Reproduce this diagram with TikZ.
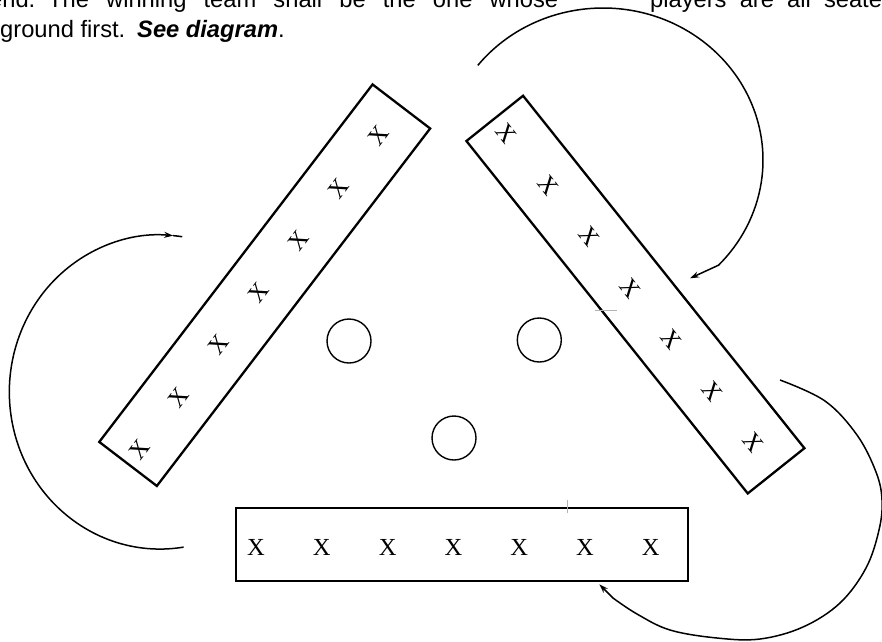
\documentclass[tikz,border=0pt]{standalone}
\usepackage{fontspec}
\setmainfont{Liberation Sans}
\newfontfamily\xserif{Liberation Serif}
\usetikzlibrary{arrows.meta}
\begin{document}
\begin{tikzpicture}[x=1pt,y=-1pt,
  txt/.style={anchor=base west, inner sep=0pt, font=\fontsize{23.7}{28}\selectfont},
  xmark/.style={inner sep=0pt, font=\xserif\fontsize{24.5}{28}\selectfont},
  board/.style={draw, line width=2.3pt, minimum width=450pt, minimum height=72.5pt, inner sep=0pt},
  ring/.style={draw, circle, line width=1.4pt, minimum size=44pt, inner sep=0pt},
  swing/.style={line width=1.5pt},
  tip/.style={-{Stealth[length=9pt,width=6pt]}},
  faint/.style={gray!60, line width=0.6pt}
]
\useasboundingbox (0,0) rectangle (882,641);
\clip (0,0) rectangle (882,641);

% text
\node[txt] (w1) at (-11,7.5) {end.};
\node[txt] (w2) at (48,7.5) {\makebox[510pt][s]{The winning team shall be the one whose}};
\node[txt] (w3) at (650,7.5) {\makebox[245pt][s]{players are all seated}};
\node[txt] (g1) at (0,37.5) {ground first.};
\node[txt] (g2) at (137,37.5) {\textbf{\textit{See diagram}}.};

% team boards
\node[board, rotate=52.6] (L) at (264.7,285.2) {};
\node[board, rotate=-51.4, minimum width=451pt] (R) at (635.4,294.6) {};
\node[board, line width=2.6pt, minimum width=452pt, minimum height=73pt] (B) at (462,544.5) {};

% players
\foreach \k [count=\i] in {-3,...,3}{
  \node[xmark, rotate=52.6] (l\i) at ({264.7+0.6074*(-9.5+65.8*\k)},{285.2-0.7944*(-9.5+65.8*\k)}) {X};
  \node[xmark, rotate=-51.4] (r\i) at ({635.4+0.6239*(-8.3+66*\k)},{294.6+0.7815*(-8.3+66*\k)}) {X};
}
\foreach \k [count=\i] in {0,...,6}{
  \node[xmark] (b\i) at ({256+65.8*\k},547) {X};
}

% circles
\node[ring] (c1) at (349,341) {};
\node[ring] (c2) at (539.3,340) {};
\node[ring] (c3) at (454,438) {};

% rotation arrows
\coordinate (aS) at ({603+160*cos(218.5)},{160+152*sin(218.5)});
\coordinate (aT) at (690,278.3);
\coordinate (cT) at (599.3,584.3);
\coordinate (bS) at (183.6,547.1);
\coordinate (bM) at (173.1,235.6);

\draw[swing, tip] (aS) arc[start angle=218.5, end angle=403.8, x radius=160, y radius=152] -- (aT);
\draw[swing, tip] (bS) arc[start angle=81, end angle=275, x radius=150.7, y radius=157];
\draw[swing] (bM) arc[start angle=275, end angle=278.5, x radius=150.7, y radius=157];
\draw[swing, tip] plot[smooth, tension=0.6] coordinates {(780,380) (825,401) (857,435) (876,472) (882,500) (879,530) (866,568) (840,603) (803,627) (760,639) (717,638) (670,630) (637,614) (613,598)} -- (cT);

% faint marks
\draw[faint] (567.3,500) -- (567.3,513);
\draw[faint] (595,310) -- (617,310);
\end{tikzpicture}
\end{document}
